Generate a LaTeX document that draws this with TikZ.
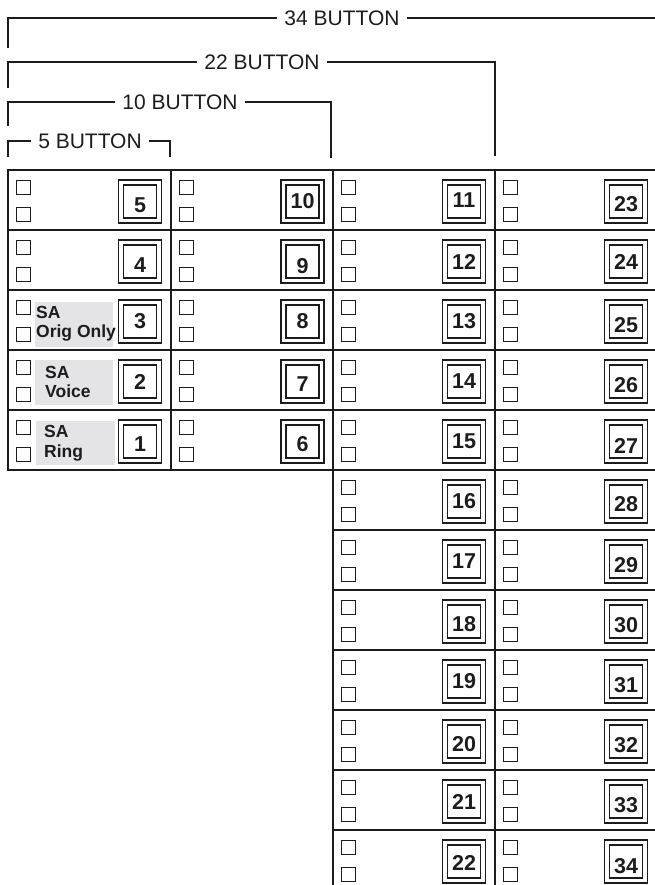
\documentclass[tikz,border=0pt]{standalone}
\usepackage{fontspec}
\setmainfont{Liberation Sans}
\definecolor{sagray}{RGB}{228,228,230}
\definecolor{ink}{RGB}{28,28,28}
\begin{document}
\begin{tikzpicture}[x=1pt,y=-1pt,
  gridline/.style={line width=2pt, draw=ink},
  chk/.style={draw=ink, line width=1.2pt, minimum size=14.5pt, inner sep=0pt},
  btnout/.style={draw=ink, line width=1.1pt, minimum size=43pt, inner sep=0pt},
  btnin/.style={draw=ink, line width=1.8pt, minimum size=33pt, inner sep=0pt},
  num/.style={font=\bfseries\fontsize{21.5}{25}\selectfont, inner sep=0pt, text=ink},
  bracket/.style={line width=1.3pt, draw=ink},
  blabel/.style={font=\fontsize{21}{25}\selectfont, inner xsep=7pt, inner ysep=0pt, text=ink},
  sabg/.style={fill=sagray, draw=none, inner sep=0pt},
  satxt/.style={font=\bfseries\fontsize{17.5}{20}\selectfont, inner sep=0pt, anchor=base west, text=ink}]
\useasboundingbox (0,0) rectangle (655,885);

% ---- top brackets ----
\node[blabel] (t34) at (342,18) {34 BUTTON};
\coordinate (b34a) at (8,48);
\coordinate (b34b) at (8,18);
\coordinate (b34c) at (655,18);
\draw[bracket] (b34a) -- (b34b) -- (t34.west);
\draw[bracket] (t34.east) -- (b34c);

\node[blabel] (t22) at (262,62) {22 BUTTON};
\coordinate (b22a) at (8,88);
\coordinate (b22b) at (8,62);
\coordinate (b22c) at (495,62);
\coordinate (b22d) at (495,156);
\draw[bracket] (b22a) -- (b22b) -- (t22.west);
\draw[bracket] (t22.east) -- (b22c) -- (b22d);

\node[blabel] (t10) at (180,102) {10 BUTTON};
\coordinate (b10a) at (8,126);
\coordinate (b10b) at (8,102);
\coordinate (b10c) at (331,102);
\coordinate (b10d) at (331,158);
\draw[bracket] (b10a) -- (b10b) -- (t10.west);
\draw[bracket] (t10.east) -- (b10c) -- (b10d);

\node[blabel] (t5) at (90,141) {5 BUTTON};
\coordinate (b5a) at (8,157);
\coordinate (b5b) at (8,141);
\coordinate (b5c) at (170,141);
\coordinate (b5d) at (170,157);
\draw[bracket] (b5a) -- (b5b) -- (t5.west);
\draw[bracket] (t5.east) -- (b5c) -- (b5d);

% ---- SA label backgrounds ----
\node[sabg, minimum width=78pt, minimum height=45pt, anchor=north west] (sa3bg) at (35,302) {};
\node[sabg, minimum width=78pt, minimum height=45pt, anchor=north west] (sa2bg) at (35,360) {};
\node[sabg, minimum width=79pt, minimum height=44pt, anchor=north west] (sa1bg) at (36,421) {};
\node[satxt] (sa3a) at (36,318) {SA};
\node[satxt] (sa3b) at (36,337) {Orig Only};
\node[satxt] (sa2a) at (45,378) {SA};
\node[satxt] (sa2b) at (45,397) {Voice};
\node[satxt] (sa1a) at (44,437) {SA};
\node[satxt] (sa1b) at (44,457) {Ring};

% ---- grid ----
\foreach \yy in {170,230,290,350,410,470}
  \draw[gridline] (8,\yy) -- (655,\yy);
\foreach \yy in {530,590,650,710,770,830}
  \draw[gridline] (333,\yy) -- (655,\yy);
\draw[gridline] (8,169) -- (8,471);
\draw[gridline] (171,169) -- (171,471);
\draw[gridline] (333,169) -- (333,885);
\draw[gridline] (495,169) -- (495,885);

% ---- buttons: number / column left x / button centre x / row / digit shift down ----
\foreach \n/\cl/\bx/\r/\dy in {
  5/8/140/0/4, 4/8/140/1/4, 3/8/140/2/0, 2/8/140/3/0, 1/8/140/4/3,
  10/171/302.5/0/0, 9/171/302.5/1/5, 8/171/302.5/2/0, 7/171/302.5/3/3, 6/171/302.5/4/3,
  11/333/464/0/-1, 12/333/464/1/0, 13/333/464/2/0, 14/333/464/3/0, 15/333/464/4/0,
  16/333/464/5/0, 17/333/464/6/0, 18/333/464/7/3, 19/333/464/8/0, 20/333/464/9/3,
  21/333/464/10/0, 22/333/464/11/1,
  23/495/626/0/3, 24/495/626/1/0, 25/495/626/2/4, 26/495/626/3/4, 27/495/626/4/4,
  28/495/626/5/3, 29/495/626/6/4, 30/495/626/7/4, 31/495/626/8/4, 32/495/626/9/4,
  33/495/626/10/4, 34/495/626/11/5}
{
  \pgfmathsetmacro{\yt}{170+60*\r}
  \node[chk] (ca\n) at (\cl+15.5,\yt+17.5) {};
  \node[chk] (cb\n) at (\cl+15.5,\yt+44.5) {};
  \node[btnout] (bo\n) at (\bx,\yt+31.5) {};
  \node[btnin] (bi\n) at (bo\n.center) {};
  \node[num] (nl\n) at ([yshift=-\dy pt]bi\n.center) {\n};
}
\end{tikzpicture}
\end{document}
